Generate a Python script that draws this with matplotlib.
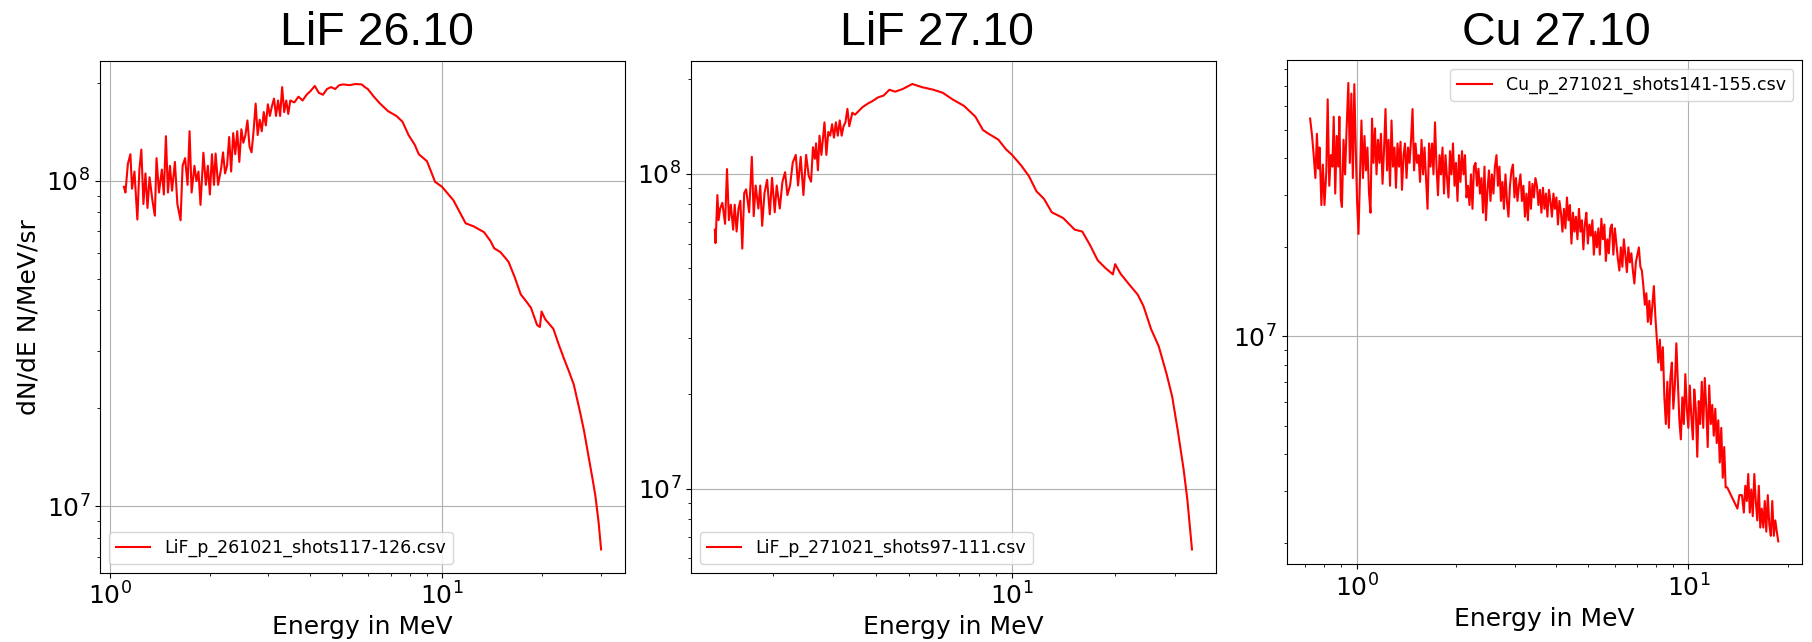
import matplotlib
matplotlib.use('Agg')
import matplotlib.pyplot as plt
import numpy as np

plt.rcParams['font.size'] = 18

# ---- LiF 26.10 (energy in MeV, dN/dE in 1e8) ----
e_lif26 = [1.104, 1.116, 1.135, 1.155, 1.168, 1.188, 1.212, 1.229, 1.246, 1.264,
           1.282, 1.300, 1.319, 1.345, 1.368, 1.384, 1.408, 1.436, 1.456, 1.477,
           1.498, 1.519, 1.541, 1.572, 1.599, 1.635, 1.658, 1.687, 1.716, 1.740,
           1.765, 1.800, 1.825, 1.851, 1.877, 1.915, 1.948, 1.975, 2.003, 2.032,
           2.061, 2.084, 2.120, 2.163, 2.194, 2.225, 2.256, 2.289, 2.321, 2.354,
           2.388, 2.421, 2.456, 2.491, 2.526, 2.562, 2.598, 2.636, 2.673, 2.711,
           2.750, 2.789, 2.828, 2.869, 2.909, 2.951, 2.993, 3.035, 3.078, 3.123,
           3.167, 3.212, 3.258, 3.304, 3.351, 3.399, 3.447, 3.496, 3.596, 3.700,
           3.806, 3.914, 4.026, 4.142, 4.260, 4.383, 4.508, 4.638, 4.770, 4.907,
           5.048, 5.266, 5.494, 5.732, 5.863, 5.980, 6.238, 6.510, 6.887, 7.290,
           7.603, 7.932, 8.277, 8.513, 9.010, 9.267, 9.532, 10.00, 10.82, 11.29,
           11.78, 12.46, 13.38, 13.96, 14.36, 14.98, 15.85, 16.54, 17.25, 17.99,
           18.51, 19.32, 19.70, 19.93, 20.44, 21.63, 22.43, 23.21, 24.07, 24.91,
           25.99, 26.73, 27.50, 28.29, 28.93, 29.59, 30.10]
n_lif26 = [0.958, 0.920, 1.127, 1.206, 0.945, 1.067, 0.760, 1.082, 1.246, 0.848,
           1.053, 0.825, 1.025, 0.871, 0.781, 1.173, 0.920, 1.082, 0.907, 1.370,
           0.920, 1.111, 0.932, 1.142, 0.848, 0.756, 1.111, 1.173, 0.971, 1.419,
           0.920, 1.111, 0.997, 1.067, 0.843, 1.219, 0.971, 1.111, 0.907, 1.206,
           0.971, 1.212, 0.971, 1.082, 1.222, 1.053, 1.111, 1.362, 1.067, 1.400,
           1.206, 1.419, 1.142, 1.438, 1.308, 1.381, 1.531, 1.273, 1.222, 1.419,
           1.725, 1.381, 1.539, 1.419, 1.625, 1.478, 1.716, 1.581, 1.692, 1.787,
           1.581, 1.763, 1.581, 1.938, 1.625, 1.763, 1.603, 1.763, 1.739, 1.811,
           1.763, 1.836, 1.887, 1.954, 1.861, 1.836, 1.912, 1.938, 1.912, 1.965,
           1.975, 1.965, 1.981, 1.975, 1.938, 1.912, 1.811, 1.725, 1.634, 1.581,
           1.518, 1.381, 1.290, 1.206, 1.148, 1.067, 0.992, 0.958, 0.871, 0.803,
           0.740, 0.724, 0.695, 0.655, 0.620, 0.604, 0.564, 0.506, 0.448, 0.424,
           0.4075, 0.3606, 0.3557, 0.3967, 0.3756, 0.3509, 0.3148, 0.2864, 0.2604, 0.2368,
           0.1959, 0.1711, 0.1454, 0.1235, 0.1079, 0.0892, 0.0738]

# ---- LiF 27.10 (energy in MeV, dN/dE in 1e8) ----
e_lif27 = [1.351, 1.358, 1.375, 1.386, 1.401, 1.422, 1.448, 1.467, 1.486, 1.505,
           1.529, 1.545, 1.565, 1.585, 1.605, 1.626, 1.647, 1.668, 1.703, 1.734,
           1.756, 1.779, 1.812, 1.835, 1.859, 1.888, 1.922, 1.957, 1.987, 2.023,
           2.050, 2.093, 2.131, 2.169, 2.203, 2.243, 2.284, 2.331, 2.367, 2.410,
           2.454, 2.499, 2.544, 2.584, 2.617, 2.651, 2.672, 2.706, 2.735, 2.770,
           2.828, 2.864, 2.902, 2.939, 2.977, 3.015, 3.054, 3.094, 3.134, 3.175,
           3.216, 3.257, 3.300, 3.342, 3.412, 3.474, 3.565, 3.658, 3.802, 3.901,
           4.054, 4.214, 4.379, 4.551, 4.791, 5.108, 5.448, 5.886, 6.276, 6.694,
           7.232, 7.810, 8.223, 8.546, 9.117, 9.596, 10.00, 10.64, 11.20, 11.79,
           12.41, 13.07, 14.11, 15.25, 16.05, 16.90, 17.80, 18.74, 19.72, 20.03,
           20.76, 21.86, 23.31, 24.23, 25.51, 26.86, 28.28, 29.39, 30.54, 31.75,
           32.57, 33.60]
n_lif27 = [0.664, 0.602, 0.855, 0.712, 0.775, 0.808, 0.693, 1.034, 0.712, 0.797,
           0.664, 0.797, 0.655, 0.775, 0.820, 0.578, 0.867, 0.892, 0.754, 1.131,
           0.733, 0.917, 0.775, 0.917, 0.683, 0.867, 0.956, 0.743, 0.970, 0.754,
           0.917, 0.775, 0.943, 1.011, 0.855, 0.917, 1.085, 1.147, 0.917, 1.131,
           0.855, 1.147, 0.983, 0.943, 1.213, 1.115, 1.248, 1.025, 1.320, 1.147,
           1.455, 1.147, 1.357, 1.320, 1.435, 1.301, 1.455, 1.320, 1.476, 1.320,
           1.415, 1.455, 1.606, 1.415, 1.561, 1.539, 1.583, 1.628, 1.674, 1.698,
           1.746, 1.771, 1.847, 1.821, 1.857, 1.926, 1.883, 1.847, 1.806, 1.722,
           1.642, 1.518, 1.376, 1.338, 1.283, 1.196, 1.147, 1.061, 0.983, 0.879,
           0.831, 0.754, 0.723, 0.664, 0.655, 0.594, 0.531, 0.502, 0.479, 0.516,
           0.4815, 0.449, 0.413, 0.380, 0.321, 0.283, 0.2324, 0.1965, 0.1527, 0.1153,
           0.0922, 0.0641]

# ---- Cu 27.10 (energy in MeV, dN/dE in 1e7) ----
e_cu27 = [0.724, 0.734, 0.743, 0.751, 0.759, 0.767, 0.773, 0.783, 0.791, 0.800,
          0.810, 0.818, 0.827, 0.836, 0.845, 0.853, 0.862, 0.871, 0.880, 0.887,
          0.896, 0.903, 0.913, 0.923, 0.932, 0.944, 0.954, 0.964, 0.974, 0.984,
          0.995,
          1.003, 1.013, 1.024, 1.034, 1.045, 1.056, 1.067, 1.078, 1.090, 1.101,
          1.113, 1.124, 1.136, 1.148, 1.160, 1.172, 1.184, 1.197, 1.209, 1.222,
          1.235, 1.248, 1.261, 1.274, 1.287, 1.301, 1.314, 1.328, 1.342, 1.356,
          1.370, 1.385, 1.399, 1.414, 1.429, 1.444, 1.459, 1.474, 1.490, 1.505,
          1.521, 1.537, 1.553, 1.569, 1.586, 1.602, 1.619, 1.636, 1.653, 1.670,
          1.688, 1.705, 1.723, 1.741, 1.759, 1.778, 1.796, 1.815, 1.834, 1.853,
          1.873, 1.892, 1.912, 1.932, 1.952, 1.973, 1.993, 2.014, 2.035, 2.056,
          2.078, 2.100, 2.122, 2.144, 2.166, 2.189, 2.212, 2.235, 2.258, 2.282,
          2.306, 2.330, 2.354, 2.379, 2.404, 2.429, 2.454, 2.480, 2.506, 2.532,
          2.558, 2.585, 2.612, 2.640, 2.667, 2.695, 2.723, 2.752, 2.780, 2.810,
          2.839, 2.869, 2.899, 2.929, 2.960, 2.991, 3.022, 3.054, 3.085, 3.118,
          3.150, 3.183, 3.217, 3.250, 3.284, 3.319, 3.353, 3.389, 3.424, 3.460,
          3.496, 3.533, 3.570, 3.607, 3.645, 3.683, 3.721, 3.760, 3.800, 3.839,
          3.880, 3.920, 3.961, 4.003, 4.045, 4.087, 4.130, 4.173, 4.217, 4.261,
          4.306, 4.351, 4.396, 4.442, 4.489, 4.536, 4.583, 4.631, 4.680, 4.729,
          4.778, 4.826, 4.876, 4.927, 4.979, 5.031, 5.083, 5.137, 5.190, 5.245,
          5.300, 5.355, 5.411, 5.468, 5.525, 5.583, 5.641, 5.700, 5.760, 5.820,
          5.881, 5.943, 6.005, 6.068, 6.131, 6.196, 6.261, 6.326, 6.392, 6.459,
          6.527, 6.595, 6.664, 6.734, 6.804, 6.876, 6.947, 7.020, 7.094, 7.168,
          7.243, 7.319, 7.395, 7.473, 7.551, 7.630, 7.710, 7.790, 7.872, 7.954,
          8.038, 8.122, 8.207, 8.292, 8.379, 8.467, 8.555, 8.645, 8.735, 8.827,
          8.919, 9.012, 9.107, 9.202, 9.298, 9.396, 9.494, 9.593, 9.694, 9.795,
          9.898, 10.00, 10.10, 10.21, 10.32, 10.42, 10.53, 10.64, 10.75, 10.86,
          10.98, 11.09, 11.21, 11.33, 11.44, 11.56, 11.69, 11.81, 11.93, 12.06,
          12.18, 12.31, 12.44, 12.57, 12.70, 12.83, 12.96, 13.10,
          14.06, 14.25, 14.51, 14.70, 14.85, 15.01, 15.16, 15.32, 15.48, 15.64,
          15.81, 15.97, 16.14, 16.31, 16.48, 16.65, 16.83, 17.00, 17.18, 17.36,
          17.54, 17.73, 17.91, 18.10, 18.29, 18.48, 18.67]
n_cu27 = [5.45, 4.76, 4.04, 3.43, 4.84, 3.69, 4.35, 2.78, 3.81, 2.78,
          3.58, 6.33, 3.23, 4.10, 3.75, 5.53, 3.04, 4.76, 3.75, 5.53,
          2.91, 2.74, 4.62, 3.53, 4.91, 7.19, 3.86, 6.62, 3.43, 7.12,
          4.10,
          2.87, 2.22, 3.53, 5.37, 3.43, 4.76, 3.64, 4.35, 3.04, 2.62,
          5.45, 3.86, 5.05, 3.53, 4.62, 3.86, 4.84, 3.28, 4.23, 5.87,
          3.64, 4.62, 3.23, 5.37, 3.75, 4.35, 3.18, 4.49, 3.75, 4.55,
          3.13, 4.10, 4.49, 3.43, 4.35, 3.86, 4.62, 5.87, 3.64, 4.49,
          3.86, 4.10, 3.33, 4.62, 3.53, 4.35, 3.43, 2.70, 4.49, 3.75,
          4.49, 3.53, 5.29, 3.75, 3.00, 4.10, 3.53, 4.35, 3.04, 4.10,
          3.43, 2.95, 4.23, 3.53, 4.49, 3.23, 3.86, 2.87, 4.10, 3.33,
          4.23, 3.53, 4.10, 2.95, 3.23, 2.78, 3.53, 2.70, 3.75, 3.86,
          3.23, 3.69, 3.04, 3.43, 2.62, 3.75, 2.47, 3.13, 3.64, 2.87,
          3.53, 3.04, 3.75, 4.10, 3.23, 3.75, 2.87, 3.33, 2.70, 3.53,
          2.87, 2.54, 3.23, 3.64, 3.81, 2.95, 3.43, 2.87, 3.23, 3.53,
          2.87, 3.23, 2.54, 3.04, 2.47, 3.33, 2.70, 3.28, 2.95, 3.43,
          3.23, 2.78, 3.13, 2.62, 3.18, 2.70, 3.04, 2.54, 3.13, 2.87,
          2.54, 3.04, 2.70, 2.95, 2.39, 2.87, 2.62, 2.26, 2.70, 2.32,
          2.95, 2.47, 2.78, 2.06, 2.62, 2.26, 2.54, 2.13, 2.70, 2.26,
          2.47, 1.97, 2.39, 2.62, 2.06, 2.39, 2.19, 2.47, 1.89, 2.26,
          2.00, 2.32, 1.89, 2.50, 2.13, 2.39, 1.80, 2.13, 1.91, 2.32,
          2.39, 1.89, 2.32, 2.06, 1.83, 1.67, 2.00, 1.72, 2.13, 1.89,
          1.65, 2.00, 1.78, 1.91, 1.67, 1.51, 1.78, 1.89, 2.00, 1.72,
          1.67, 1.48, 1.28, 1.40, 1.12, 1.32, 1.10, 1.28, 1.48, 1.17,
          0.976, 0.816, 0.976, 0.769, 0.920, 0.623, 0.506, 0.703, 0.491, 0.724,
          0.816, 0.570, 0.683, 0.948, 0.703, 0.521, 0.449, 0.623, 0.506, 0.746,
          0.570, 0.491, 0.683, 0.537, 0.449, 0.662, 0.570, 0.392, 0.605, 0.506,
          0.703, 0.491, 0.724, 0.570, 0.423, 0.683, 0.506, 0.587, 0.462, 0.570,
          0.436, 0.521, 0.375, 0.491, 0.333, 0.423, 0.309, 0.309,
          0.262, 0.291, 0.291, 0.254, 0.313, 0.278, 0.343, 0.254, 0.304, 0.247,
          0.343, 0.278, 0.239, 0.313, 0.226, 0.262, 0.226, 0.278, 0.219, 0.291,
          0.232, 0.212, 0.278, 0.212, 0.239, 0.219, 0.203]

titles = ['LiF 26.10', 'LiF 27.10', 'Cu 27.10']
files = ['LiF_p_261021_shots117-126.csv', 'LiF_p_271021_shots97-111.csv',
         'Cu_p_271021_shots141-155.csv']

fig = plt.figure(figsize=(18.12, 6.42), dpi=100)
ax1 = fig.add_axes([0.0552, 0.1079, 0.2897, 0.7975])
ax2 = fig.add_axes([0.3813, 0.1079, 0.2897, 0.7975])
ax3 = fig.add_axes([0.7101, 0.1210, 0.2842, 0.7855])

ax1.plot(e_lif26, np.array(n_lif26) * 1e8, color='red', label=files[0])
ax2.plot(e_lif27, np.array(n_lif27) * 1e8, color='red', label=files[1])
ax3.plot(e_cu27, np.array(n_cu27) * 1e7, color='red', label=files[2])

for ax in (ax1, ax2, ax3):
    ax.set_xscale('log')
    ax.set_yscale('log')
    ax.grid(True)
    ax.set_xlabel('Energy in MeV')

ax1.set_ylabel('dN/dE N/MeV/sr')
ax1.legend(loc='lower left', fontsize=12.5)
ax2.legend(loc='lower left', fontsize=12.5)
ax3.legend(loc='upper right', fontsize=12.5)

# titles sit slightly off the axes centres in the original
fig.text(0.2081, 0.930, titles[0], ha='center', va='baseline', fontsize=33.5, family='Liberation Sans')
fig.text(0.5169, 0.930, titles[1], ha='center', va='baseline', fontsize=33.5, family='Liberation Sans')
fig.text(0.8587, 0.930, titles[2], ha='center', va='baseline', fontsize=33.5, family='Liberation Sans')

fig.savefig('out.png', dpi=100)
